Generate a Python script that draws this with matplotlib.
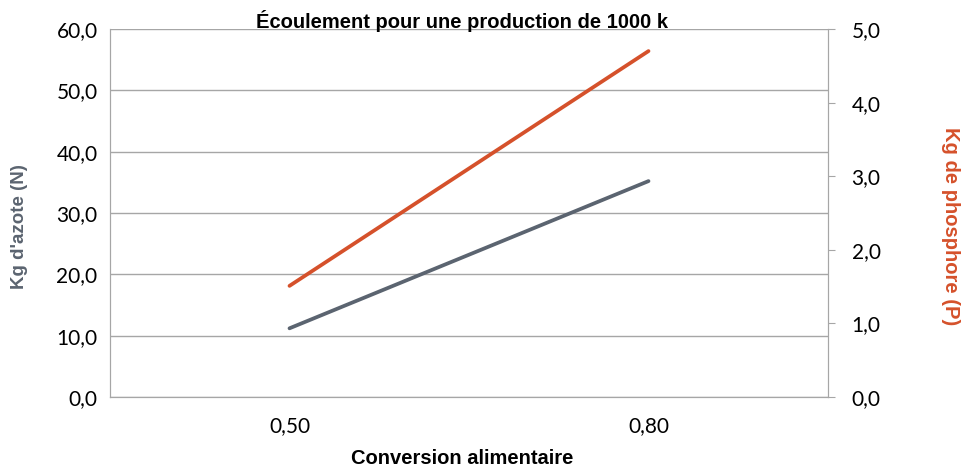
import matplotlib
matplotlib.use("Agg")
import matplotlib.pyplot as plt
from matplotlib.ticker import FuncFormatter

# --- Data ---
categories = ["0,50", "0,80"]
azote = [11.2, 35.2]        # kg N
phosphore = [1.51, 4.70]    # kg P

gray = "#5b6470"
orange = "#d5512b"
grid_col = "#a6a6a6"

def comma(v, pos):
    return f"{v:.1f}".replace(".", ",")

fig = plt.figure(figsize=(9.62, 4.68), dpi=100)
ax = fig.add_axes([110 / 962, 1 - 397 / 468, 718 / 962, 368 / 468])
ax2 = ax.twinx()

x = range(len(categories))
ax.plot(x, azote, color=gray, linewidth=2.7, solid_capstyle="round")
ax2.plot(x, phosphore, color=orange, linewidth=2.7, solid_capstyle="round")

ax.set_xlim(-0.5, 1.5)
ax.set_ylim(0, 60)
ax2.set_ylim(0, 5)
ax.set_yticks(range(0, 61, 10))
ax2.set_yticks([0, 1, 2, 3, 4, 5])
ax.yaxis.set_major_formatter(FuncFormatter(comma))
ax2.yaxis.set_major_formatter(FuncFormatter(comma))
ax.set_xticks(list(x))
ax.set_xticklabels(categories)

ax.grid(axis="y", color=grid_col, linewidth=1)
ax.set_axisbelow(True)

for a in (ax, ax2):
    for side in ("left", "right", "bottom"):
        a.spines[side].set_color(grid_col)
    a.spines["top"].set_visible(False)

ax.tick_params(axis="y", length=0, labelsize=15, pad=9)
ax.tick_params(axis="x", length=0, labelsize=15, pad=14)
ax2.tick_params(axis="y", length=5, color=grid_col, labelsize=15, pad=12)
for lab in ax.get_yticklabels() + ax.get_xticklabels() + ax2.get_yticklabels():
    lab.set_fontfamily("Lato")

# axis titles placed in figure pixels, like the original export
bold = dict(fontweight="bold", fontfamily="Liberation Sans")
fig.text(20 / 962, 1 - 227 / 468, "Kg d'azote (N)", color=gray, rotation=90,
         ha="center", va="center", fontsize=13.5, **bold)
fig.text(951 / 962, 1 - 226 / 468, "Kg de phosphore (P)", color=orange, rotation=270,
         ha="center", va="center", fontsize=14.5, **bold)
fig.text(462 / 962, 1 - 459 / 468, "Conversion alimentaire",
         ha="center", va="center", fontsize=14.5, **bold)
fig.text(462 / 962, 1 - 21 / 468, "Écoulement pour une production de 1000 k",
         ha="center", va="center", fontsize=14.5, **bold)

fig.savefig("out.png", dpi=100)
